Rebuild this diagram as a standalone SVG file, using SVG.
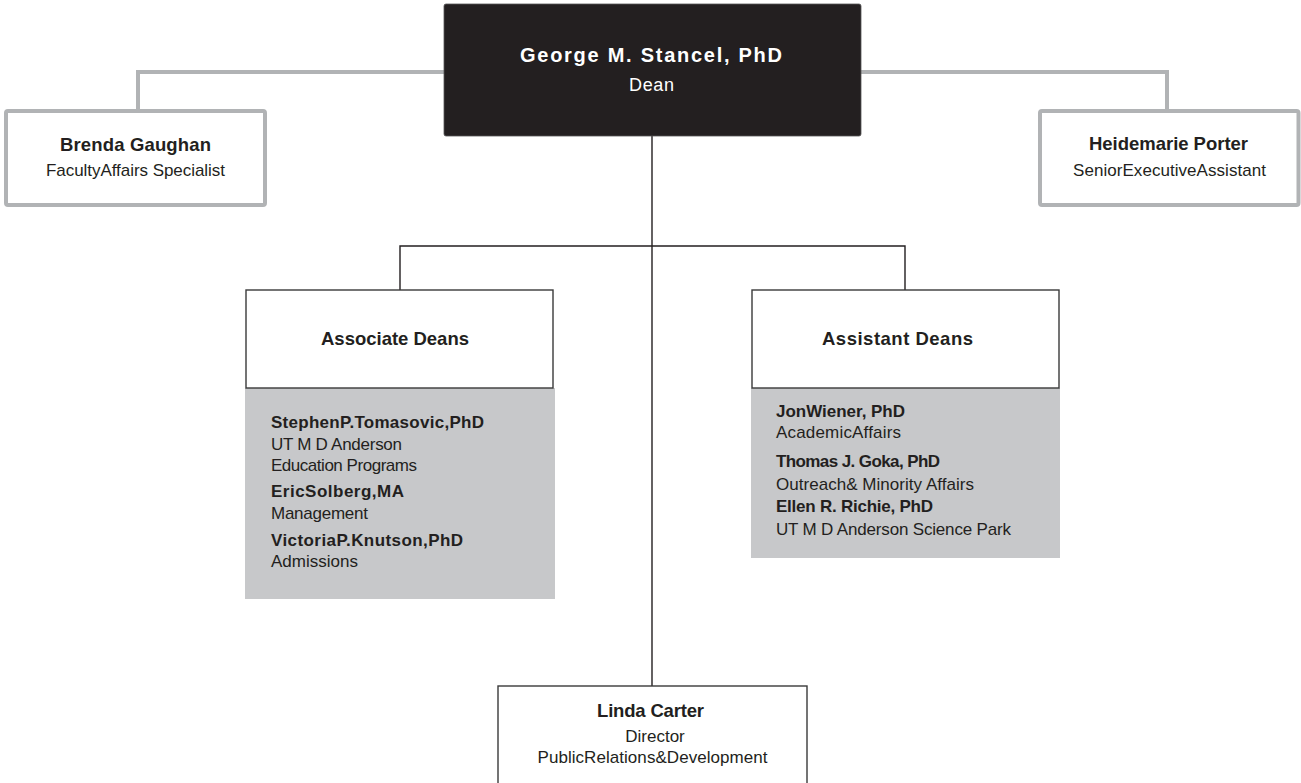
<svg xmlns="http://www.w3.org/2000/svg" width="1301" height="783" viewBox="0 0 1301 783">
<style>
.t{font-family:"Liberation Sans",Arial,sans-serif;fill:#231f20}
.b{font-weight:bold}
.c{text-anchor:middle}
.nm{font-size:18.5px}
.sub{font-size:17px}
.pn{font-size:17px}
.gbox{fill:#fff;stroke:#b1b3b5;stroke-width:4}
.wbox{fill:#fff;stroke:#3a3a3a;stroke-width:1.4}
.panel{fill:#c7c8ca}
.gline{fill:none;stroke:#b1b3b5;stroke-width:4}
.kline{fill:none;stroke:#231f20;stroke-width:1.4}
</style>
<rect width="1301" height="783" fill="#fff"/>
<g id="connectors">
<path class="gline" d="M444 72 H138 V111"/>
<path class="gline" d="M861 72 H1167 V111"/>
<path class="kline" d="M652 136 V686"/>
<path class="kline" d="M400 290 V246 H905 V290"/>
</g>
<g id="dean">
<rect x="444" y="4" width="417" height="132" rx="2" fill="#231f20" stroke="#555" stroke-width="0.8"/>
<text class="t b c" x="651" y="62" font-size="20" style="fill:#fff" textLength="262" lengthAdjust="spacing">George M. Stancel, PhD</text>
<text class="t c" x="651.5" y="91" font-size="18" style="fill:#fff" textLength="45" lengthAdjust="spacing">Dean</text>
</g>
<g id="brenda">
<rect class="gbox" x="6" y="111" width="259" height="94" rx="2"/>
<text class="t b c nm" x="135.5" y="151" textLength="151" lengthAdjust="spacing">Brenda Gaughan</text>
<text class="t c sub" x="135.5" y="176" textLength="179" lengthAdjust="spacing">FacultyAffairs Specialist</text>
</g>
<g id="heidemarie">
<rect class="gbox" x="1040" y="111" width="258.5" height="94" rx="2"/>
<text class="t b c nm" x="1168.5" y="150" textLength="159" lengthAdjust="spacing">Heidemarie Porter</text>
<text class="t c sub" x="1169.5" y="176" textLength="193" lengthAdjust="spacing">SeniorExecutiveAssistant</text>
</g>
<g id="associate-deans">
<rect class="panel" x="245" y="388" width="310" height="211"/>
<rect class="wbox" x="246" y="290" width="307" height="98"/>
<text class="t b c nm" x="395" y="345" textLength="148" lengthAdjust="spacing">Associate Deans</text>
<text class="t b pn" x="271" y="428" textLength="213" lengthAdjust="spacing">StephenP.Tomasovic,PhD</text>
<text class="t pn" x="271" y="450" textLength="131" lengthAdjust="spacing">UT M D Anderson</text>
<text class="t pn" x="271" y="471" textLength="146" lengthAdjust="spacing">Education Programs</text>
<text class="t b pn" x="271" y="497" textLength="133" lengthAdjust="spacing">EricSolberg,MA</text>
<text class="t pn" x="271" y="519" textLength="97" lengthAdjust="spacing">Management</text>
<text class="t b pn" x="271" y="546" textLength="192" lengthAdjust="spacing">VictoriaP.Knutson,PhD</text>
<text class="t pn" x="271" y="567" textLength="87" lengthAdjust="spacing">Admissions</text>
</g>
<g id="assistant-deans">
<rect class="panel" x="751" y="388" width="309" height="170"/>
<rect class="wbox" x="752" y="290" width="307" height="98"/>
<text class="t b c nm" x="897.5" y="345" textLength="151" lengthAdjust="spacing">Assistant Deans</text>
<text class="t b pn" x="776" y="417" textLength="129" lengthAdjust="spacing">JonWiener, PhD</text>
<text class="t pn" x="776" y="438" textLength="125" lengthAdjust="spacing">AcademicAffairs</text>
<text class="t b pn" x="776" y="467" textLength="164" lengthAdjust="spacing">Thomas J. Goka, PhD</text>
<text class="t pn" x="776" y="490" textLength="198" lengthAdjust="spacing">Outreach&amp; Minority Affairs</text>
<text class="t b pn" x="776" y="512" textLength="157" lengthAdjust="spacing">Ellen R. Richie, PhD</text>
<text class="t pn" x="776" y="535" textLength="235" lengthAdjust="spacing">UT M D Anderson Science Park</text>
</g>
<g id="linda">
<rect class="wbox" x="498" y="686" width="309" height="110"/>
<text class="t b c nm" x="650.5" y="717" textLength="107" lengthAdjust="spacing">Linda Carter</text>
<text class="t c sub" x="655" y="742">Director</text>
<text class="t c sub" x="652.5" y="763" textLength="230" lengthAdjust="spacing">PublicRelations&amp;Development</text>
</g>
</svg>
